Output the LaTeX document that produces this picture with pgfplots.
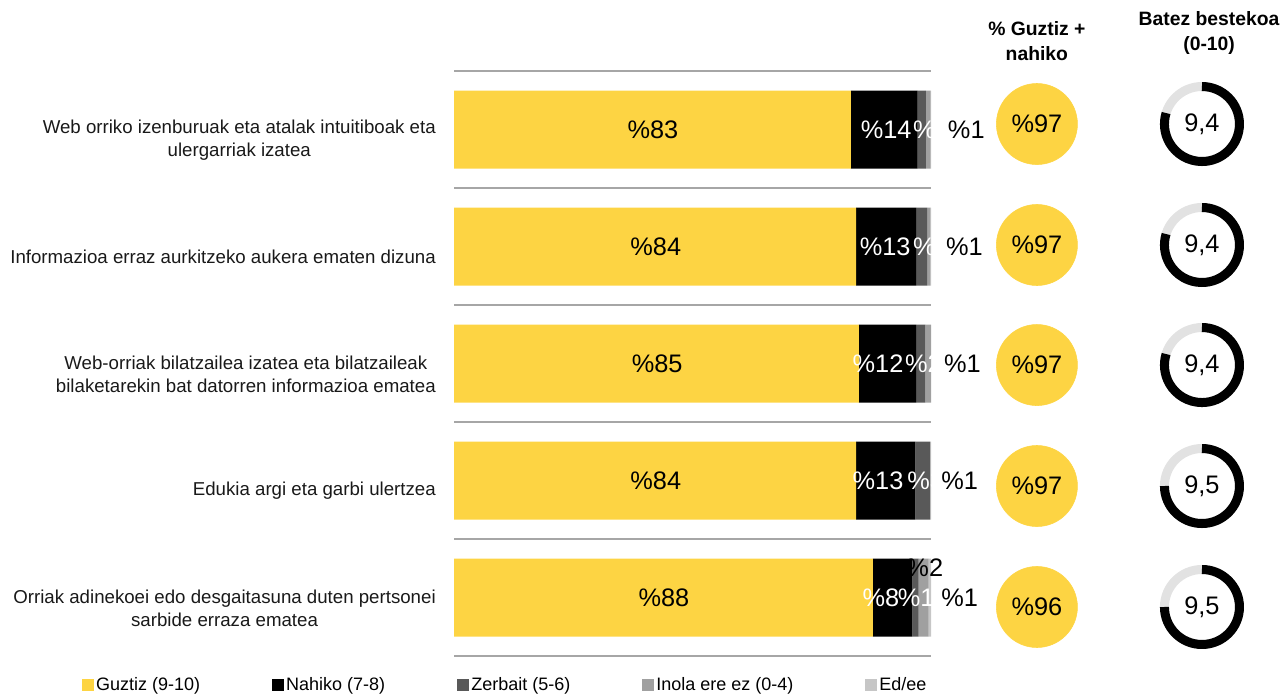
\documentclass[border=0pt]{standalone}
\usepackage{pgfplots}
\pgfplotsset{compat=1.18}
\usepackage{fontspec}
\setmainfont{Liberation Sans}

\definecolor{guztiz}{HTML}{FDD443}
\definecolor{zerbait}{HTML}{595959}
\definecolor{inola}{HTML}{A0A0A0}
\definecolor{edee}{HTML}{C6C6C6}
\definecolor{ring}{HTML}{E2E2E2}
\definecolor{sep}{HTML}{A6A6A6}
\def\px{0.75pt}

\pgfplotsset{frame/.style={
  at={(454*\px,-71*\px)}, anchor=north west,
  width=477*\px, height=585*\px, scale only axis,
  xmin=0, xmax=100, ymin=0.5, ymax=5.5, y dir=reverse}}

\tikzset{
  lbl/.style={font=\fontsize{19}{22}\selectfont, inner sep=0pt},
  cat/.style={font=\fontsize{14}{17.5}\selectfont, align=center, text=black!90, inner sep=0pt, anchor=east, xshift=-18*\px, yshift=-10.5*\px},
  head/.style={font=\bfseries\fontsize{14.5}{18.75}\selectfont, align=center, inner sep=0pt},
}
\newcommand{\donut}[2]{%
  \draw[ring, line width=9*\px] (axis cs:156.8,#1) circle[radius=37.5*\px];
  \draw[black, line width=9*\px] ([yshift=37.5*\px]axis cs:156.8,#1) arc[start angle=90, end angle={90-360+#2}, radius=37.5*\px];
}

\begin{document}
\begin{tikzpicture}
\useasboundingbox (0,0) rectangle (1288*\px,-694*\px);

% stacked bars
\begin{axis}[frame,
  xbar stacked, bar width=78*\px,
  axis line style={draw=none},
  xtick=\empty, ytick={0.5,1.5,...,5.5}, yticklabels={}, major tick length=0pt,
  ymajorgrids, grid style={sep, line width=0.9pt},
  area legend,
  legend image code/.code={\fill[#1] (0pt,-4.5pt) rectangle (8.5pt,4.5pt);},
  legend style={at={(-0.78,-0.05)}, anchor=west, draw=none, fill=none,
    legend columns=5, font=\fontsize{13.5}{15}\selectfont, inner sep=0pt,
    /tikz/every even column/.append style={column sep=52pt}},
]
\addplot[fill=guztiz, draw=none] coordinates {(83.2,1) (84.3,2) (84.9,3) (84.3,4) (87.8,5)};
\addlegendentry{Guztiz (9-10)}
\addplot[fill=black, draw=none] coordinates {(14.0,1) (12.6,2) (12.0,3) (12.4,4) (8.3,5)};
\addlegendentry{Nahiko (7-8)}
\addplot[fill=zerbait, draw=none] coordinates {(1.7,1) (2.3,2) (1.9,3) (3.1,4) (1.3,5)};
\addlegendentry{Zerbait (5-6)}
\addplot[fill=inola, draw=none] coordinates {(1.0,1) (0.6,2) (1.2,3) (0.0,4) (2.1,5)};
\addlegendentry{Inola ere ez (0-4)}
\addplot[fill=edee, draw=none] coordinates {(0.1,1) (0.2,2) (0.0,3) (0.2,4) (0.5,5)};
\addlegendentry{Ed/ee}
\end{axis}

% labels inside the bars (clipped at the bar end)
\begin{axis}[frame, hide axis, clip=true]
\node[lbl] at (axis cs:41.7,1) {\%83};
\node[lbl, text=white] at (axis cs:90.6,1) {\%14};
\node[lbl, text=white, anchor=west] at (axis cs:96.2,1) {\%};
\node[lbl] at (axis cs:42.3,2) {\%84};
\node[lbl, text=white] at (axis cs:90.4,2) {\%13};
\node[lbl, text=white, anchor=west] at (axis cs:96.2,2) {\%};
\node[lbl] at (axis cs:42.6,3) {\%85};
\node[lbl, text=white] at (axis cs:88.9,3) {\%12};
\node[lbl, text=white, anchor=west] at (axis cs:94.5,3) {\%2};
\node[lbl] at (axis cs:42.3,4) {\%84};
\node[lbl, text=white] at (axis cs:88.9,4) {\%13};
\node[lbl, text=white, anchor=west] at (axis cs:95.0,4) {\%3};
\node[lbl] at (axis cs:44.0,5) {\%88};
\node[lbl, text=white] at (axis cs:89.5,5) {\%8};
\node[lbl, text=white, anchor=west] at (axis cs:93.0,5) {\%1};
\end{axis}

% circles and averages
\begin{axis}[frame, hide axis, clip=false]
\addplot[only marks, color=guztiz, mark=*, mark size=30.4pt, mark options={fill=guztiz, draw=guztiz}]
  coordinates {(122.2,0.953) (122.2,1.987) (122.2,3.013) (122.2,4.047) (122.2,5.081)};
\donut{0.953}{73}
\donut{1.987}{73}
\donut{3.013}{73}
\donut{4.047}{90}
\donut{5.081}{90}
\end{axis}

% texts
\begin{axis}[frame, hide axis, clip=false]
\node[cat] at (axis cs:0,1) {Web orriko izenburuak eta atalak intuitiboak eta\\ulergarriak izatea};
\node[cat] at (axis cs:0,2) {Informazioa erraz aurkitzeko aukera ematen dizuna};
\node[cat] at (axis cs:0,3) {Web-orriak bilatzailea izatea eta bilatzaileak\\bilaketarekin bat datorren informazioa ematea};
\node[cat] at (axis cs:0,4) {Edukia argi eta garbi ulertzea};
\node[cat] at (axis cs:0,5) {Orriak adinekoei edo desgaitasuna duten pertsonei\\sarbide erraza ematea};

\node[lbl] at (axis cs:107.4,1) {\%1};
\node[lbl] at (axis cs:107.0,2) {\%1};
\node[lbl] at (axis cs:106.6,3) {\%1};
\node[lbl] at (axis cs:106.0,4) {\%1};
\node[lbl] at (axis cs:106.0,5) {\%1};
\node[lbl] at (axis cs:98.7,4.748) {\%2};

\node[head] at (axis cs:122.2,0.244) {\% Guztiz +\\nahiko};
\node[head] at (axis cs:158.3,0.171) {Batez bestekoa\\(0-10)};

\node[lbl] at (axis cs:122.2,0.953) {\%97};
\node[lbl] at (axis cs:122.2,1.987) {\%97};
\node[lbl] at (axis cs:122.2,3.013) {\%97};
\node[lbl] at (axis cs:122.2,4.047) {\%97};
\node[lbl] at (axis cs:122.2,5.081) {\%96};

\node[lbl] at (axis cs:156.8,0.953) {9,4};
\node[lbl] at (axis cs:156.8,1.987) {9,4};
\node[lbl] at (axis cs:156.8,3.013) {9,4};
\node[lbl] at (axis cs:156.8,4.047) {9,5};
\node[lbl] at (axis cs:156.8,5.081) {9,5};
\end{axis}
\end{tikzpicture}
\end{document}
